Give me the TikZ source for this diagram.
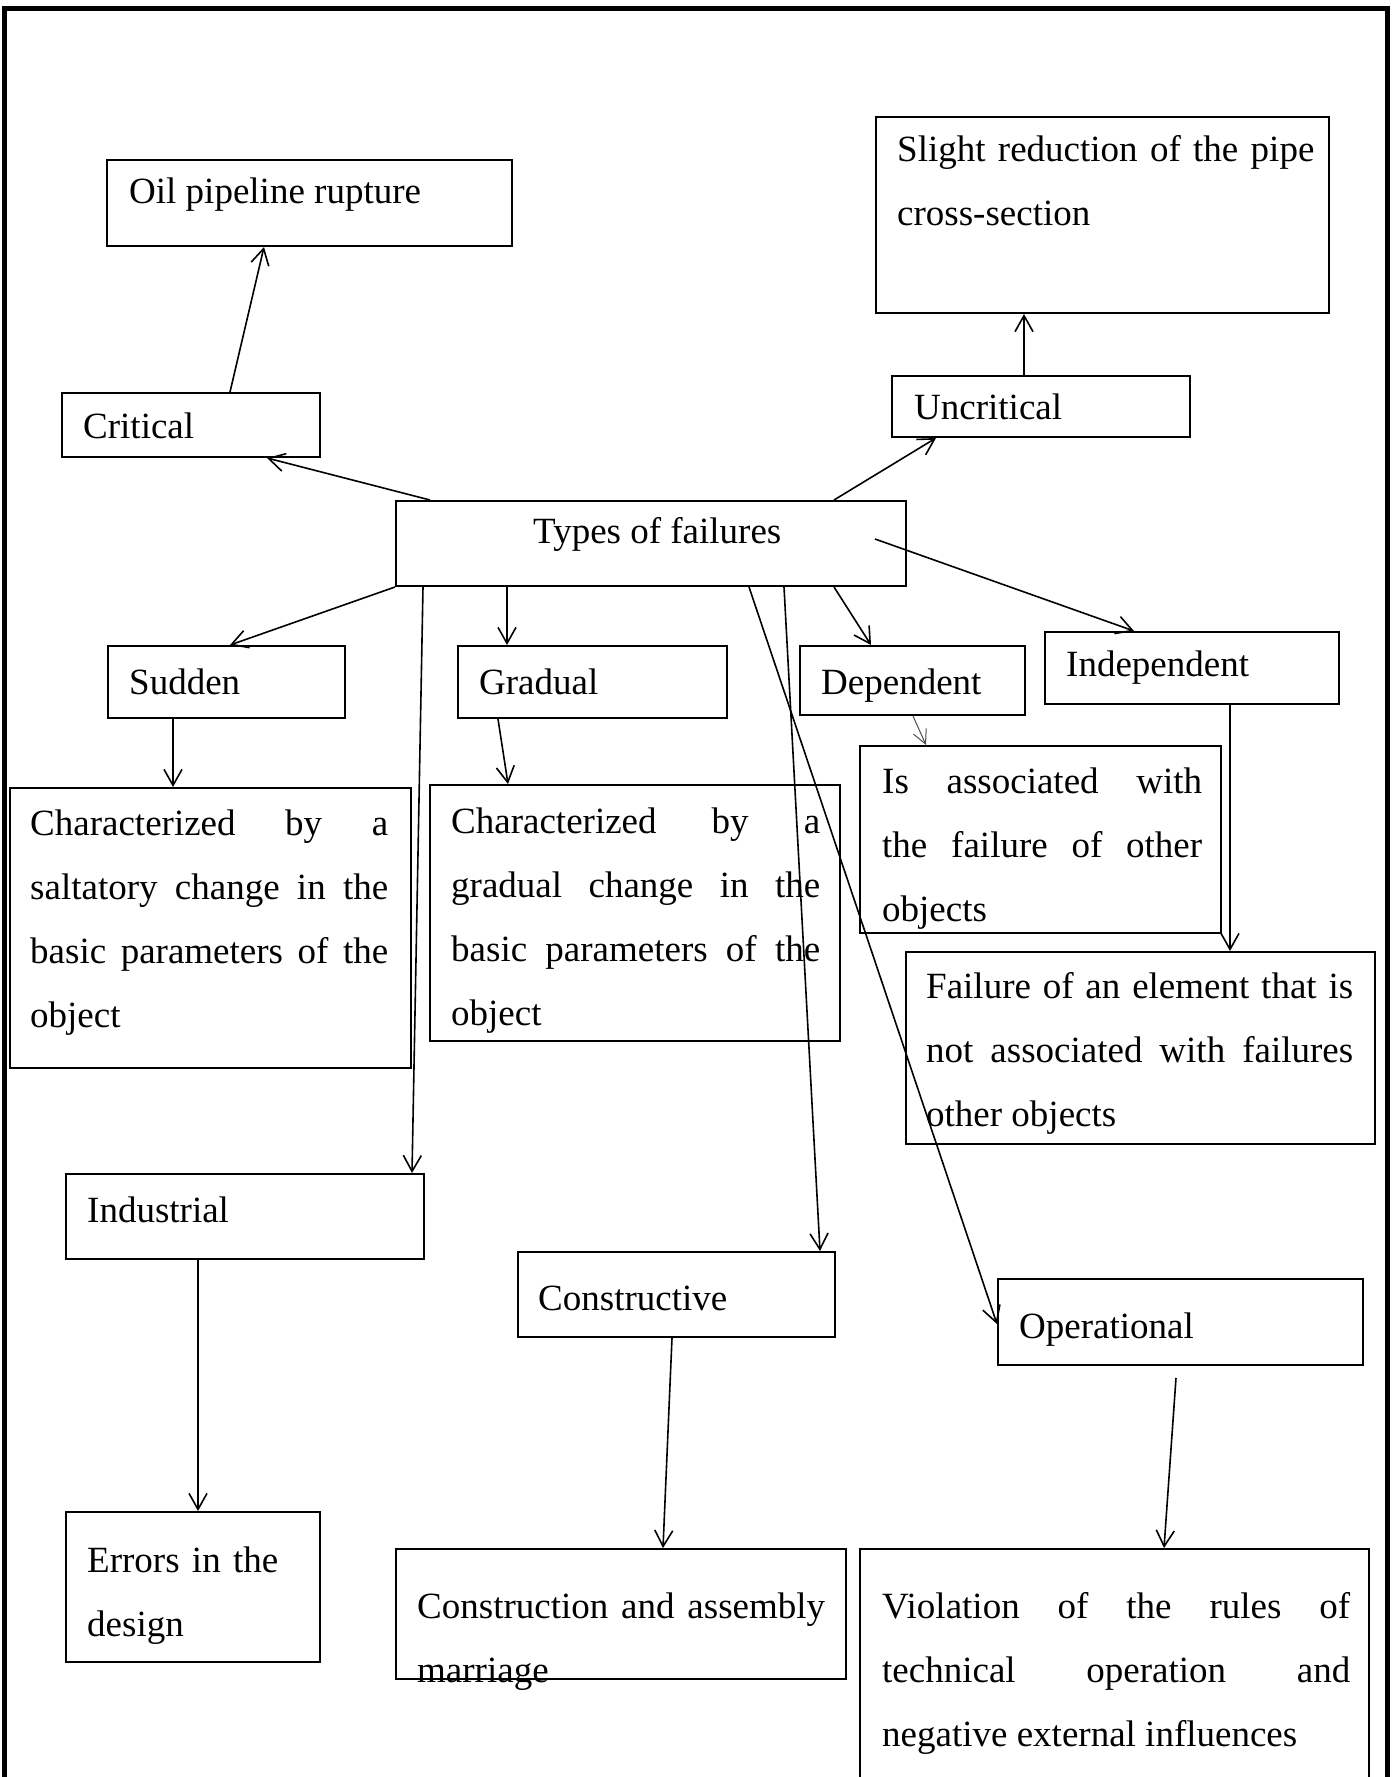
\documentclass[tikz,border=0pt]{standalone}
\usepackage{fontspec}
\setmainfont{Liberation Serif}
\usetikzlibrary{arrows.meta,fit}
\tolerance=10000
\hyphenpenalty=10000
\begin{document}
\begin{tikzpicture}[x=1pt,y=-1pt,
  box/.style={draw, line width=2pt, line join=miter, inner sep=0pt},
  lbl/.style={anchor=base west, inner sep=0pt, font=\fontsize{37}{64}\selectfont},
  para/.style={lbl, text width=#1, align=justify},
  plain/.style={lbl, text width=#1, align=left},
  conn/.style={line width=1.6pt, -{Straight Barb[length=16pt,width=18pt]}},
  thinconn/.style={line width=1pt, black!70, -{Straight Barb[length=14pt,width=14pt]}},
  frame/.style={line width=5pt, line join=miter}]
\useasboundingbox (0,0) rectangle (1399,1777);
\clip (0,0) rectangle (1399,1777);

% outer frame (open at the bottom, cut by the page)
\draw[frame] (4.5,1800) -- (4.5,8.5) -- (1387,8.5) -- (1387,1800);

% boxes
\node[box, fit={(107,160) (512,246)}] (oil) {};
\node[box, fit={(62,393) (320,457)}] (critical) {};
\node[box, fit={(876,117) (1329,313)}] (slight) {};
\node[box, fit={(892,376) (1190,437)}] (uncrit) {};
\node[box, fit={(396,501) (906,586)}] (types) {};
\node[box, fit={(108,646) (345,718)}] (sudden) {};
\node[box, fit={(458,646) (727,718)}] (gradual) {};
\node[box, fit={(800,646) (1025,715)}] (dependent) {};
\node[box, fit={(1045,632) (1339,704)}] (indep) {};
\node[box, fit={(10,788) (411,1068)}] (char1) {};
\node[box, fit={(430,785) (840,1041)}] (char2) {};
\node[box, fit={(860,746) (1221,933)}] (isassoc) {};
\node[box, fit={(906,952) (1375,1144)}] (failure) {};
\node[box, fit={(66,1174) (424,1259)}] (industrial) {};
\node[box, fit={(518,1252) (835,1337)}] (constructive) {};
\node[box, fit={(998,1279) (1363,1365)}] (operational) {};
\node[box, fit={(66,1512) (320,1662)}] (errors) {};
\node[box, fit={(396,1549) (846,1679)}] (construction) {};
\node[box, fit={(860,1549) (1369,1800)}] (violation) {};

% texts
\node[lbl] (oilT) at (129,203) {Oil pipeline rupture};
\node[lbl] (criticalT) at (83,438) {Critical};
\node[plain=440pt] (slightT) at (897,161) {Slight reduction of the pipe\\cross-section};
\node[lbl] (uncritT) at (914,419) {Uncritical};
\node[lbl] (typesT) at (533,543) {Types of failures};
\node[lbl] (suddenT) at (129,694) {Sudden};
\node[lbl] (gradualT) at (479,694) {Gradual};
\node[lbl] (dependentT) at (821,694) {Dependent};
\node[lbl] (indepT) at (1066,676) {Independent};
\node[para=358pt] (char1T) at (30,835) {Characterized by a\linebreak saltatory change in the\linebreak basic parameters of the\linebreak object};
\node[para=369pt] (char2T) at (451,833) {Characterized by a\linebreak gradual change in the\linebreak basic parameters of the\linebreak object};
\node[para=320pt] (isassocT) at (882,793) {Is associated with\linebreak the failure of other\linebreak objects};
\node[para=427pt] (failureT) at (926,998) {Failure of an element that is\linebreak not associated with failures\linebreak other objects};
\node[lbl] (industrialT) at (87,1222) {Industrial};
\node[plain=230pt] (errorsT) at (87,1572) {Errors in the\\design};
\node[lbl] (constructiveT) at (538,1310) {Constructive};
\node[para=408pt] (constructionT) at (417,1618) {Construction and assembly\linebreak marriage};
\node[lbl] (operationalT) at (1019,1338) {Operational};
\node[para=468pt] (violationT) at (882,1618) {Violation of the rules of\linebreak technical operation and\linebreak negative external influences};

% connectors
\draw[conn] ([xshift=35pt]types.north west) -- ([xshift=206pt]critical.south west);
\draw[conn] ([xshift=169pt]critical.north west) -- ([xshift=158pt]oil.south west);
\draw[conn] ([xshift=439pt]types.north west) -- ([xshift=45pt]uncrit.south west);
\draw[conn] ([xshift=133pt]uncrit.north west) -- ([xshift=149pt]slight.south west);
\draw[conn] ([xshift=480pt,yshift=-39pt]types.north west) -- ([xshift=90pt]indep.north west);
\draw[conn] (types.south west) -- ([xshift=123pt]sudden.north west);
\draw[conn] ([xshift=112pt]types.south west) -- ([xshift=50pt]gradual.north west);
\draw[conn] ([xshift=28pt]types.south west) -- ([xshift=-13pt]industrial.north east);
\draw[conn] ([xshift=354pt]types.south west) -- ([yshift=-2pt]operational.west);
\draw[conn] ([xshift=389pt]types.south west) -- ([xshift=303pt]constructive.north west);
\draw[conn] ([xshift=439pt]types.south west) -- ([xshift=72pt]dependent.north west);
\draw[conn] ([xshift=66pt]sudden.south west) -- ([xshift=164pt]char1.north west);
\draw[conn] ([xshift=41pt]gradual.south west) -- ([xshift=79pt]char2.north west);
\draw[thinconn] ([xshift=114pt]dependent.south west) -- ([xshift=67pt]isassoc.north west);
\draw[conn] ([xshift=186pt]indep.south west) -- ([xshift=325pt]failure.north west);
\draw[conn] ([xshift=133pt]industrial.south west) -- ([xshift=133pt]errors.north west);
\draw[conn] ([xshift=155pt]constructive.south west) -- ([xshift=268pt]construction.north west);
\draw[conn] ([xshift=179pt,yshift=-12pt]operational.south west) -- ([xshift=305pt]violation.north west);
\end{tikzpicture}
\end{document}
